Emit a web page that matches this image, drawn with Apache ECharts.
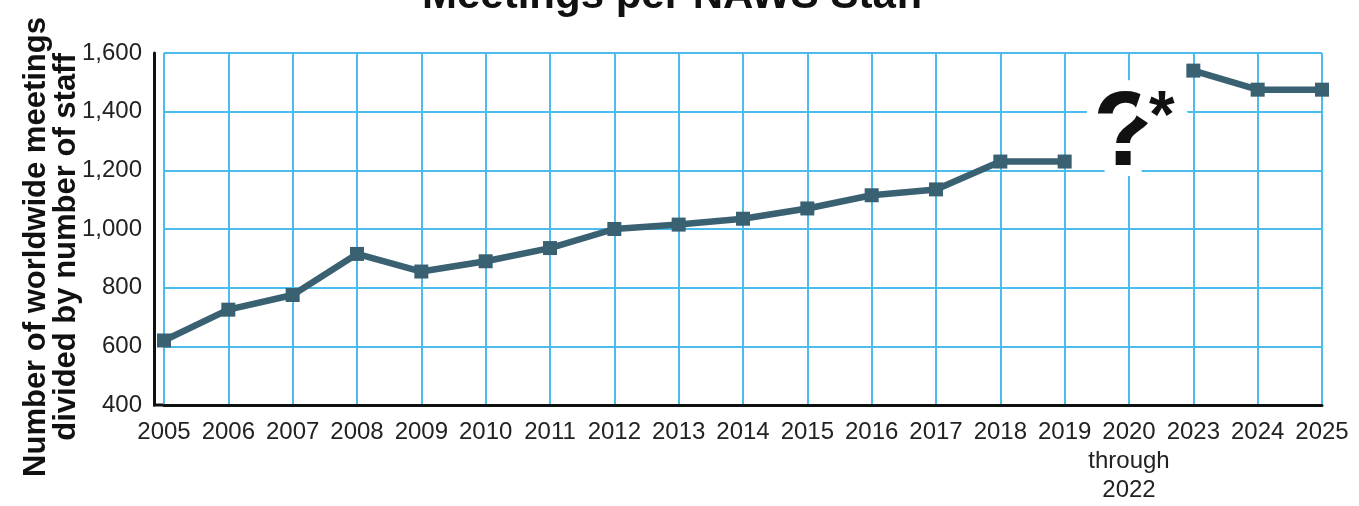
<!DOCTYPE html>
<html>
<head>
<meta charset="utf-8">
<script src="https://cdn.jsdelivr.net/npm/echarts@6/dist/echarts.min.js"></script>
<style>
  html, body { margin: 0; padding: 0; background: #fff; }
  #chart { width: 1359px; height: 506px; }
</style>
</head>
<body>
<div id="chart"></div>
<script>
// years on the x axis (2020-2022 lumped into one slot)
const years = ['2005', '2006', '2007', '2008', '2009', '2010', '2011', '2012', '2013',
    '2014', '2015', '2016', '2017', '2018', '2019', '2020\nthrough\n2022', '2023', '2024', '2025'];
// meetings per NAWS staff, no data for 2020-2022
const meetingsPerStaff = [620, 725, 775, 915, 855, 890, 935, 1000, 1015,
    1035, 1070, 1115, 1135, 1230, 1230, null, 1540, 1475, 1475];
const yTicks = [400, 600, 800, 1000, 1200, 1400, 1600];

const labelFont = "'Liberation Sans', Arial, sans-serif";
const boldFont = "'Liberation Sans', Arial, sans-serif";
const gridBlue = '#4cbcee';

const myChart = echarts.init(document.getElementById('chart'));

const option = {
    animation: false,
    grid: { left: 164, right: 37, top: 53, bottom: 101 },
    xAxis: {
        type: 'category',
        data: years,
        boundaryGap: false,
        axisLine: { lineStyle: { color: '#111', width: 3 } },
        axisTick: { show: false },
        axisLabel: {
            interval: 0,
            margin: 13,
            color: '#222',
            fontFamily: labelFont,
            fontSize: 24,
            lineHeight: 29
        },
        splitLine: { show: true, lineStyle: { color: gridBlue, width: 2 } }
    },
    yAxis: {
        type: 'value',
        min: yTicks[0],
        max: yTicks[yTicks.length - 1],
        interval: 200,
        offset: 10,
        axisLine: { show: true, lineStyle: { color: '#111', width: 3 } },
        axisTick: { show: false },
        axisLabel: {
            margin: 12,
            color: '#222',
            fontFamily: labelFont,
            fontSize: 24,
            formatter: v => v.toLocaleString('en-US')
        },
        splitLine: { lineStyle: { color: gridBlue, width: 2 } }
    },
    series: [{
        type: 'line',
        data: meetingsPerStaff,
        connectNulls: false,
        symbol: 'rect',
        symbolSize: 14,
        lineStyle: { color: '#3a6172', width: 6.5 },
        itemStyle: { color: '#3a6172' },
        z: 5
    }],
    graphic: [
        {
            type: 'text',
            left: 422, top: -25,
            style: {
                text: 'Meetings per NAWS Staff',
                font: 'bold 42px ' + boldFont,
                fill: '#111'
            }
        },
        {
            type: 'text',
            x: 51, y: 247,
            rotation: Math.PI / 2,
            style: {
                text: 'Number of worldwide meetings\ndivided by number of staff',
                font: 'bold 31px ' + boldFont,
                lineHeight: 30,
                fill: '#111',
                align: 'center',
                verticalAlign: 'middle'
            }
        },
        {
            // corner piece joining the offset y axis to the x axis
            type: 'rect',
            shape: { x: 153, y: 403.5, width: 12, height: 3 },
            style: { fill: '#111' }
        },
        {
            type: 'text',
            x: 1093, y: 136,
            z: 100,
            style: {
                text: '?',
                font: 'bold 106px ' + boldFont,
                fill: '#111',
                stroke: '#fff',
                lineWidth: 22,
                align: 'left',
                verticalAlign: 'middle'
            }
        },
        {
            type: 'text',
            x: 1149, y: 119,
            z: 100,
            style: {
                text: '*',
                font: 'bold 66px ' + boldFont,
                fill: '#111',
                stroke: '#fff',
                lineWidth: 22,
                align: 'left',
                verticalAlign: 'middle'
            }
        }
    ]
};
myChart.setOption(option);
</script>
</body>
</html>
